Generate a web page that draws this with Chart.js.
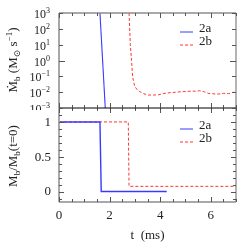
<!DOCTYPE html>
<html><head><meta charset="utf-8">
<script src="https://cdn.jsdelivr.net/npm/chart.js@4/dist/chart.umd.min.js"></script>
<style>
html,body{margin:0;padding:0;background:#fff;width:249px;height:249px;overflow:hidden;position:relative}
canvas{position:absolute;left:0}
#c1{top:0}
#c2{top:100px}
</style></head>
<body>
<canvas id="c2" width="249" height="149"></canvas>
<canvas id="c1" width="249" height="110"></canvas>
<script>
// ---- data ----
const seriesNames = ['2a', '2b'];
const rateTime2a = [1.62, 1.83];
const rateVal2a  = [1e3, 1e-3];
const rateTime2b = [2.77, 2.82, 2.87, 2.91, 2.96, 3.0, 3.1, 3.2, 3.35, 3.53, 3.75, 3.93, 4.15, 4.39, 4.6, 4.85, 5.05, 5.24, 5.4, 5.57, 5.75, 5.9, 6.05, 6.23, 6.4, 6.5, 6.7, 6.9, 7.0];
const rateVal2b  = [1e3, 10, 1, 0.095, 0.04, 0.022, 0.014, 0.0107, 0.008, 0.0066, 0.0066, 0.0068, 0.0082, 0.0093, 0.0098, 0.0107, 0.011, 0.0117, 0.0115, 0.0123, 0.0105, 0.0085, 0.008, 0.0076, 0.0078, 0.0085, 0.0080, 0.0098, 0.0095];
const massTime2a = [0, 1.62, 1.67, 4.26];
const massVal2a  = [1, 1, 0, 0];
const massTime2b = [0, 2.74, 2.77, 7];
const massVal2b  = [1, 1, 0.075, 0.075];
const timeTickLabels = [0, 2, 4, 6];
const rateTickExponents = [3, 2, 1, 0, -1, -2, -3];
const massTickLabels = [0, 0.5, 1];

const BLUE = '#3a3aff', RED = '#ff3535';
const FONT = '"Liberation Serif", "DejaVu Serif", serif';
const FRAME = '#8c8c8c';

function pts(xs, ys){ return xs.map((x,i)=>({x:x, y:ys[i]})); }

function drawRich(ctx, segs, x, y, size, align){
  const parts = segs.map(([t,k])=>{
    const fs = k==='n' ? size : Math.round(size*0.7);
    ctx.font = fs + 'px ' + FONT;
    return {t, k, fs, w: ctx.measureText(t).width};
  });
  const total = parts.reduce((a,p)=>a+p.w,0);
  let cx = align==='right' ? x-total : (align==='center' ? x-total/2 : x);
  ctx.textAlign='left'; ctx.textBaseline='alphabetic';
  for(const p of parts){
    ctx.font = p.fs + 'px ' + FONT;
    const dy = p.k==='sub' ? size*0.25 : (p.k==='sup' ? -size*0.42 : 0);
    ctx.fillText(p.t, cx, y+dy);
    cx += p.w;
  }
}

function ticksX(ctx, xs, area, top, bottom){
  ctx.strokeStyle = '#555'; ctx.lineWidth = 1;
  for(let v=0; v<=7.001; v+=0.5){
    const px = Math.round(xs.getPixelForValue(v))+0.5;
    const len = (Math.abs(v%2)<1e-6) ? 5 : 3;
    ctx.beginPath();
    if(top){ ctx.moveTo(px, area.top); ctx.lineTo(px, area.top+len); }
    if(bottom){ ctx.moveTo(px, area.bottom); ctx.lineTo(px, area.bottom-len); }
    ctx.stroke();
  }
}

function frame(ctx, area, bottomColor, topColor){
  ctx.save();
  ctx.lineWidth = 2; ctx.strokeStyle = '#a8a8a8';
  ctx.beginPath(); ctx.moveTo(area.left, area.top); ctx.lineTo(area.left, area.bottom); ctx.stroke();
  ctx.lineWidth = 1.3; ctx.strokeStyle = FRAME;
  ctx.beginPath(); ctx.moveTo(area.right, area.top); ctx.lineTo(area.right, area.bottom); ctx.stroke();
  if(topColor){
    ctx.strokeStyle = topColor;
    ctx.beginPath(); ctx.moveTo(area.left, area.top); ctx.lineTo(area.right, area.top); ctx.stroke();
  }
  if(bottomColor){
    ctx.strokeStyle = bottomColor; ctx.lineWidth = bottomColor==='#000' ? 1.2 : 1.3;
    ctx.beginPath(); ctx.moveTo(area.left, area.bottom); ctx.lineTo(area.right, area.bottom); ctx.stroke();
  }
  ctx.restore();
}

function legend(ctx, x, y){
  ctx.save();
  ctx.lineWidth = 1;
  ctx.strokeStyle = BLUE; ctx.setLineDash([]);
  ctx.beginPath(); ctx.moveTo(x, y); ctx.lineTo(x+13, y); ctx.stroke();
  ctx.strokeStyle = RED; ctx.setLineDash([3,2]);
  ctx.beginPath(); ctx.moveTo(x, y+13); ctx.lineTo(x+13, y+13); ctx.stroke();
  ctx.setLineDash([]);
  ctx.fillStyle = '#222'; ctx.font = '13px ' + FONT; ctx.textAlign='left'; ctx.textBaseline='alphabetic';
  ctx.fillText(seriesNames[0], x+19, y);
  ctx.fillText(seriesNames[1], x+19, y+13);
  ctx.restore();
}

const topPlugin = {
  id:'topDeco',
  afterDatasetsDraw(chart){
    const ctx = chart.ctx, a = chart.chartArea, xs = chart.scales.x, ys = chart.scales.y;
    ctx.save();
    frame(ctx, a, '#000', FRAME);
    ticksX(ctx, xs, a, true, true);
    ctx.strokeStyle = '#555'; ctx.lineWidth = 1;
    ctx.fillStyle = '#222';
    for(const e of rateTickExponents){
      const py = Math.round(ys.getPixelForValue(Math.pow(10,e)))+0.5;
      const len = e===0 ? 6 : 4;
      ctx.beginPath();
      ctx.moveTo(a.left, py); ctx.lineTo(a.left+len, py);
      ctx.moveTo(a.right, py); ctx.lineTo(a.right-len, py);
      ctx.stroke();
      drawRich(ctx, [['10','n'], [String(e).replace('-','\u2212'),'sup']], a.left-9, py+4.5, 12, 'right');
    }
    legend(ctx, 180, 32);
    ctx.save();
    ctx.translate(17, 60); ctx.rotate(-Math.PI/2);
    ctx.fillStyle = '#222';
    drawRich(ctx, [['\u1E40','n'],['b','sub'],[' (M','n'],['\u2299','sub'],[' s','n'],['\u22121','sup'],[')','n']], 0, 0, 13, 'center');
    ctx.restore();
    ctx.restore();
  }
};

const botPlugin = {
  id:'botDeco',
  afterDatasetsDraw(chart){
    const ctx = chart.ctx, a = chart.chartArea, xs = chart.scales.x, ys = chart.scales.y;
    ctx.save();
    frame(ctx, a, FRAME, null);
    ticksX(ctx, xs, a, true, true);
    ctx.strokeStyle = '#555'; ctx.lineWidth = 1;
    for(let k=-1; k<=12; k++){
      const v = k/10;
      const py = Math.round(ys.getPixelForValue(v))+0.5;
      const major = (k%5===0);
      const len = major ? 5 : 3;
      ctx.beginPath();
      ctx.moveTo(a.left, py); ctx.lineTo(a.left+len, py);
      ctx.moveTo(a.right, py); ctx.lineTo(a.right-len, py);
      ctx.stroke();
    }
    ctx.fillStyle = '#222'; ctx.font = '13px ' + FONT;
    ctx.textAlign='right'; ctx.textBaseline='middle';
    for(const v of massTickLabels){
      ctx.fillText(String(v), a.left-8, ys.getPixelForValue(v)+0.5);
    }
    ctx.textAlign='center'; ctx.textBaseline='middle';
    for(const v of timeTickLabels){
      ctx.fillText(String(v), xs.getPixelForValue(v), a.bottom+14);
    }
    ctx.font = '13px ' + FONT; ctx.textBaseline='alphabetic';
    ctx.fillText('t  (ms)', (a.left+a.right)/2, a.bottom+37);
    legend(ctx, 180, 29);
    ctx.save();
    ctx.translate(17, 56); ctx.rotate(-Math.PI/2);
    drawRich(ctx, [['M','n'],['b','sub'],['/M','n'],['b','sub'],['(t=0)','n']], 0, 0, 13, 'center');
    ctx.restore();
    ctx.restore();
  }
};

const common = (ymin, ymax, ytype, padTop, xH) => ({
  responsive:false, animation:false, devicePixelRatio:1,
  layout:{padding:{left:0, right:13, top:padTop, bottom:0}},
  plugins:{legend:{display:false}, tooltip:{enabled:false}},
  elements:{point:{radius:0}, line:{tension:0}},
  scales:{
    x:{type:'linear', min:0, max:7, ticks:{display:false}, grid:{display:false}, border:{display:false},
       afterFit:(s)=>{s.height = xH;}},
    y:{type:ytype, min:ymin, max:ymax, ticks:{display:false}, grid:{display:false}, border:{display:false},
       afterFit:(s)=>{s.width = 59;}}
  }
});

new Chart(document.getElementById('c1'), {
  type:'line',
  data:{datasets:[
    {label:seriesNames[0], data:pts(rateTime2a, rateVal2a), borderColor:BLUE, borderWidth:1.1},
    {label:seriesNames[1], data:pts(rateTime2b, rateVal2b), borderColor:RED, borderWidth:1, borderDash:[3,2]}
  ]},
  options: common(1e-3, 1e3, 'logarithmic', 13, 2),
  plugins:[topPlugin]
});

new Chart(document.getElementById('c2'), {
  type:'line',
  data:{datasets:[
    {label:seriesNames[0], data:pts(massTime2a, massVal2a), borderColor:BLUE, borderWidth:1.4},
    {label:seriesNames[1], data:pts(massTime2b, massVal2b), borderColor:RED, borderWidth:1, borderDash:[3,2]}
  ]},
  options: common(-0.15, 1.2, 'linear', 8, 47),
  plugins:[botPlugin]
});
</script>
</body></html>
